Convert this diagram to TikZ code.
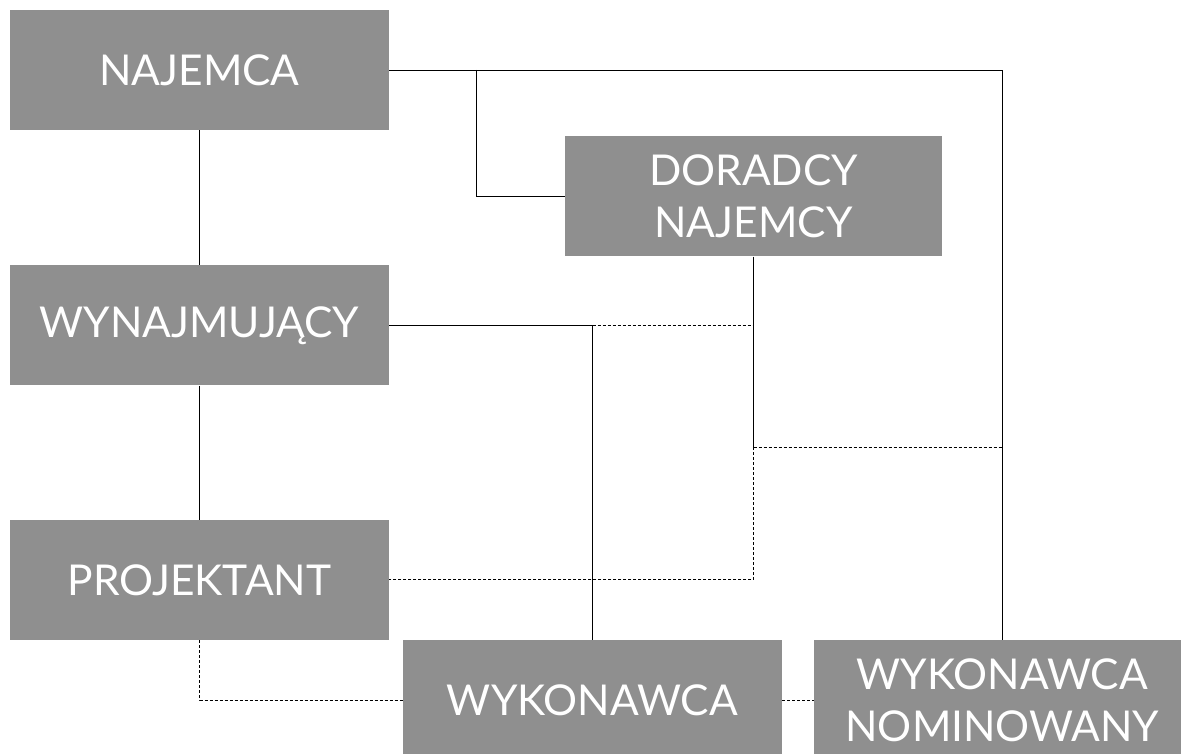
\documentclass[tikz,border=0pt]{standalone}
\usepackage{fontspec}
\setmainfont{Lato}
\usetikzlibrary{positioning}
\definecolor{boxgray}{RGB}{143,143,143}

\begin{document}
\begin{tikzpicture}[x=1pt,y=-1pt,node distance=134pt]
  \tikzstyle{party}=[fill=boxgray,minimum width=379pt,minimum height=120pt,inner sep=0pt,
    align=center,text=white,font=\fontsize{42.5}{52}\selectfont]
  \tikzstyle{link}=[black,line width=0.9pt]
  \tikzstyle{weak}=[black,line width=0.9pt,dash pattern=on 3pt off 2pt]

  \useasboundingbox (0,0) rectangle (1181,754);
  \clip (0,0) rectangle (1181,754);

  % -- Left column (stacked) --
  \node[party] (najemca) at (199.5,70) {NAJEMCA};
  \node[party,below=135pt of najemca] (wynajm) {WYNAJMUJĄCY};
  \node[party,below=of wynajm] (projektant) {PROJEKTANT};

  % -- Advisers and contractors --
  \node[party,minimum width=377pt] (doradcy) at (753.5,196.5) {DORADCY\\ NAJEMCY};
  \node[party] (wykonawca) at (592.5,700) {WYKONAWCA};
  \node[party,minimum width=376pt,right=32pt of wykonawca] (nominowany) {WYKONAWCA\\ NOMINOWANY};

  % -- Junction points --
  \coordinate (tap) at (476,70);
  \coordinate (j1) at (wykonawca.north |- wynajm.east);
  \coordinate (j2) at (doradcy.south |- wynajm.east);
  \coordinate (j3) at (753.5,447);

  % -- Solid links --
  \draw[link] (najemca.east) -| (nominowany.north);
  \draw[link] (tap) |- (doradcy.west);
  \draw[link] (najemca) -- (wynajm);
  \draw[link] (wynajm) -- (projektant);
  \draw[link] (wynajm.east) -| (wykonawca.north);
  \draw[link] (doradcy.south) -- (j3);

  % -- Dashed links --
  \draw[weak] (j1) -- (j2);
  \draw[weak] (j3) -- (j3 -| nominowany.north);
  \draw[weak] (j3) |- (projektant.east);
  \draw[weak] (projektant.south) |- (wykonawca.west);
  \draw[weak] (wykonawca.east) -- (nominowany.west);
\end{tikzpicture}
\end{document}
